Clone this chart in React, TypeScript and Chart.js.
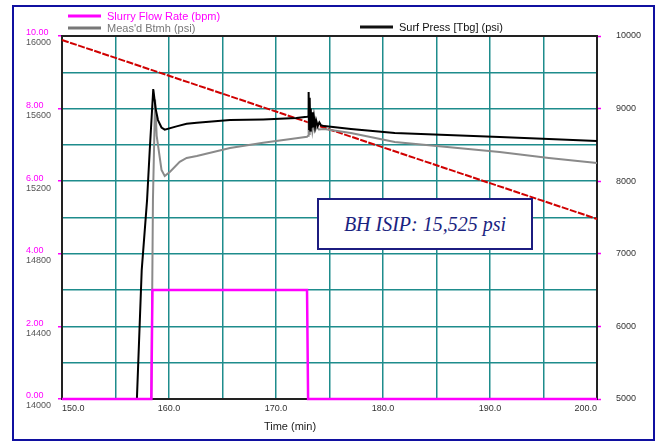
import React, { useEffect, useRef } from "react";
import { Chart, registerables } from "chart.js";

Chart.register(...registerables);

// Slurry flow rate (bpm) – left scale 0..10
const rateTime = [150, 158.35, 158.45, 172.9, 173.0, 200];
const rateValues = [0, 0, 3.0, 3.0, 0, 0];

// Surf Press [Tbg] (psi) – right scale 5000..10000
const surfTime = [150, 156.9, 157.0, 157.45, 157.95, 158.2, 158.53, 158.75, 158.97, 159.3, 159.6, 160.7, 161.65, 162.6, 165.7, 168.8, 171.9, 172.9, 173.0, 173.05, 173.1, 173.15, 173.2, 173.25, 173.3, 173.38, 173.45, 173.55, 173.65, 173.75, 173.9, 174.05, 174.2, 174.5, 177.0, 181.1, 186.0, 190.9, 195.5, 200];
const surfValues = [4000, 4000, 5000, 6776, 7740, 8430, 9270, 9000, 8842, 8740, 8710, 8755, 8790, 8805, 8842, 8851, 8870, 8887, 8890, 9230, 8720, 9150, 8700, 9000, 8730, 8950, 8740, 8880, 8750, 8840, 8760, 8810, 8770, 8759, 8718, 8663, 8635, 8608, 8580, 8553];

// Meas'd Btmh (psi) – left scale 14000..16000
const btmhTime = [150, 158.2, 158.35, 158.5, 158.7, 158.85, 159.3, 159.6, 160.1, 161.0, 161.65, 162.6, 165.7, 168.8, 171.9, 172.9, 173.0, 173.05, 173.1, 173.15, 173.2, 173.3, 173.4, 173.5, 173.65, 173.8, 174.0, 174.5, 177.0, 181.1, 186.0, 190.9, 195.5, 200];
const btmhValues = [13500, 13500, 14000, 15100, 15650, 15450, 15262, 15229, 15252, 15307, 15328, 15339, 15383, 15412, 15436, 15445, 15450, 15600, 15460, 15560, 15470, 15530, 15475, 15515, 15480, 15500, 15485, 15488, 15466, 15416, 15388, 15361, 15328, 15300];

// Calculated BH pressure (red dashed)
const bhTime = [150, 200];
const bhValues = [15978, 14992];

const xTickLabels = ["150.0", "160.0", "170.0", "180.0", "190.0", "200.0"];
const legendLabels = ["Slurry Flow Rate (bpm)", "Meas'd Btmh (psi)", "Surf Press [Tbg] (psi)"];
const xTitle = "Time (min)";
const isipText = "BH ISIP: 15,525 psi";

const MAGENTA = "#ff00ff";
const TEAL = "#1e8c8c";
const GRAY = "#8a8a8a";
const FONT = "'Liberation Sans', Arial, sans-serif";

const pts = (xs: number[], ys: number[]) => xs.map((x, i) => ({ x, y: ys[i] }));

const decor = {
  id: "decor",
  beforeDraw(chart: any) {
    const { ctx, width, height } = chart;
    ctx.save();
    ctx.fillStyle = "#ffffff";
    ctx.fillRect(0, 0, width, height);
    ctx.restore();
  },
  beforeDatasetsDraw(chart: any) {
    const { ctx, chartArea: a } = chart;
    ctx.save();
    ctx.strokeStyle = "#222222";
    ctx.lineWidth = 2;
    ctx.strokeRect(a.left, a.top, a.right - a.left, a.bottom - a.top);
    ctx.restore();
  },
  afterDraw(chart: any) {
    const { ctx } = chart;
    ctx.save();
    // outer frame
    ctx.strokeStyle = "#1010a0";
    ctx.lineWidth = 2;
    ctx.strokeRect(13, 6, 641, 434);
    // legend
    ctx.font = `11px ${FONT}`;
    ctx.textBaseline = "middle";
    ctx.textAlign = "left";
    const items = [
      { x: 68, y: 16, color: MAGENTA, text: legendLabels[0] },
      { x: 68, y: 28, color: "#777777", text: legendLabels[1] },
      { x: 360, y: 27, color: "#111111", text: legendLabels[2] },
    ];
    items.forEach((it) => {
      ctx.strokeStyle = it.color;
      ctx.lineWidth = 3;
      ctx.beginPath();
      ctx.moveTo(it.x, it.y);
      ctx.lineTo(it.x + 33, it.y);
      ctx.stroke();
      ctx.fillStyle = it.color;
      ctx.fillText(it.text, it.x + 39, it.y + 1);
    });
    // x title
    ctx.fillStyle = "#222222";
    ctx.textAlign = "center";
    ctx.fillText(xTitle, 290, 427);
    ctx.restore();
  },
};

export default function App() {
  const ref = useRef<HTMLCanvasElement | null>(null);

  useEffect(() => {
    document.body.style.margin = "0";
    const canvas = ref.current;
    if (!canvas) return;
    const chart = new Chart(canvas, {
      type: "line",
      data: {
        datasets: [
          {
            label: legendLabels[0],
            data: pts(rateTime, rateValues),
            yAxisID: "yR",
            borderColor: MAGENTA,
            borderWidth: 2.5,
            pointRadius: 0,
            clip: 3,
          },
          {
            label: legendLabels[2],
            data: pts(surfTime, surfValues),
            yAxisID: "yS",
            borderColor: "#000000",
            borderWidth: 2,
            pointRadius: 0,
            clip: { left: 3, right: 3, top: 3, bottom: 0 },
          },
          {
            label: legendLabels[1],
            data: pts(btmhTime, btmhValues),
            yAxisID: "yP",
            borderColor: GRAY,
            borderWidth: 2,
            pointRadius: 0,
            clip: { left: 3, right: 3, top: 3, bottom: 0 },
          },
          {
            label: "BH Calc",
            data: pts(bhTime, bhValues),
            yAxisID: "yP",
            borderColor: "#d00000",
            borderWidth: 2,
            borderDash: [7, 1.5],
            pointRadius: 0,
            clip: 3,
          },
        ],
      } as any,
      options: {
        animation: false,
        responsive: false,
        devicePixelRatio: 1,
        layout: { padding: { left: 26, top: 36, right: 0, bottom: 0 } },
        plugins: { legend: { display: false }, tooltip: { enabled: false }, title: { display: false } },
        scales: {
          x: {
            type: "linear",
            min: 150,
            max: 200,
            afterFit: (s: any) => { s.height = 43; },
            border: { display: false },
            grid: { color: TEAL, lineWidth: 1.5, drawTicks: false },
            ticks: {
              stepSize: 5,
              autoSkip: false,
              maxRotation: 0,
              align: "inner",
              padding: 4,
              color: "#333333",
              font: { size: 9, family: FONT },
              callback: (v: any) => {
                const n = Number(v);
                if (n % 10 !== 0) return "";
                return xTickLabels[(n - 150) / 10];
              },
            },
          },
          yP: {
            type: "linear",
            position: "left",
            min: 14000,
            max: 16000,
            weight: 0,
            afterFit: (s: any) => { s.width = 36; },
            border: { display: false },
            grid: {
              color: TEAL,
              lineWidth: 1.5,
              drawTicks: true,
              tickLength: 4,
              tickWidth: 1.5,
              tickColor: (c: any) => ((c.tick && (c.tick.value - 14000) % 400 === 0) ? MAGENTA : "rgba(0,0,0,0)"),
            },
            ticks: {
              stepSize: 200,
              autoSkip: false,
              crossAlign: "far",
              labelOffset: 7,
              color: "#555555",
              font: { size: 9, family: FONT },
              callback: (v: any) => ((Number(v) - 14000) % 400 === 0 ? String(v) : ""),
            },
          },
          yR: {
            type: "linear",
            position: "left",
            min: 0,
            max: 10,
            weight: 10,
            afterFit: (s: any) => { s.width = 0; },
            border: { display: false },
            grid: { display: false, drawTicks: false },
            ticks: {
              stepSize: 2,
              autoSkip: false,
              mirror: true,
              crossAlign: "near",
              labelOffset: -3,
              padding: 0,
              color: MAGENTA,
              font: { size: 9, family: FONT },
              callback: (v: any) => Number(v).toFixed(2),
            },
          },
          yS: {
            type: "linear",
            position: "right",
            min: 5000,
            max: 10000,
            afterFit: (s: any) => { s.width = 62; },
            border: { display: false },
            grid: {
              drawOnChartArea: false,
              drawTicks: true,
              tickLength: 4,
              tickWidth: 1.5,
              color: (c: any) => ((c.tick && c.tick.value % 1000 === 0) ? MAGENTA : "rgba(0,0,0,0)"),
            },
            ticks: {
              stepSize: 500,
              autoSkip: false,
              padding: 15,
              color: "#333333",
              font: { size: 9, family: FONT },
              callback: (v: any) => (Number(v) % 1000 === 0 ? String(v) : ""),
            },
          },
        },
      } as any,
      plugins: [decor],
    });
    return () => chart.destroy();
  }, []);

  return (
    <div style={{ position: "relative", width: 659, height: 442 }}>
      <canvas ref={ref} width={659} height={442} style={{ display: "block" }} />
      <div
        style={{
          position: "absolute",
          left: 317,
          top: 198,
          width: 216,
          height: 52,
          boxSizing: "border-box",
          border: "2px solid #1c1c80",
          background: "#ffffff",
          display: "flex",
          alignItems: "center",
          justifyContent: "center",
          fontFamily: "'Liberation Serif', 'Times New Roman', serif",
          fontStyle: "italic",
          fontSize: 20,
          color: "#1a2380",
        }}
      >
        {isipText}
      </div>
    </div>
  );
}
